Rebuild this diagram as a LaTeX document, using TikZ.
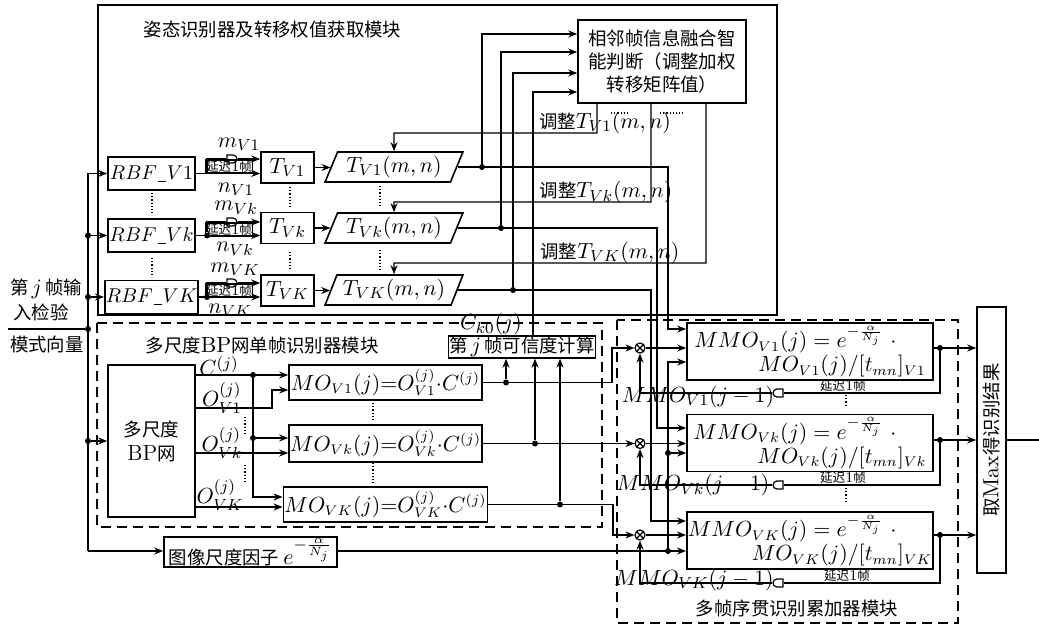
\documentclass[11pt,tikz,border=0pt]{standalone}
\usepackage{fontspec}
\newfontfamily\cjk{Noto Sans CJK SC}[Scale=0.84]
\usetikzlibrary{arrows.meta, shapes.geometric, shapes.misc, calc}
\newcommand{\tinyzh}{\fontsize{7.5}{8}\selectfont\cjk}
\newcommand{\yc}{延迟{\rmfamily 1}帧}
\newcommand{\us}{\kern0.6pt\rule[-1.2pt]{4pt}{0.4pt}\kern0.3pt}

\begin{document}
\begin{tikzpicture}[
    x=0.5pt, y=-0.5pt,
    box/.style={rectangle, draw, line width=0.8pt, inner sep=1pt, align=center},
    rbfbox/.style={box, minimum width=43.5pt, minimum height=16.5pt, inner sep=0.5pt, font=\fontsize{10}{12}\selectfont},
    mobox/.style={box, minimum width=96.5pt, inner sep=0.5pt, font=\fontsize{10.5}{12}\selectfont},
    mmobox/.style={box, minimum width=123pt, minimum height=28.5pt, inner sep=0.5pt, align=left, font=\fontsize{10.5}{12}\selectfont},
    para/.style={trapezium, draw, line width=0.8pt, trapezium left angle=67, trapezium right angle=113, trapezium stretches=true, minimum width=69pt, minimum height=15pt, inner sep=1pt},
    modframe/.style={line width=1pt, dash pattern=on 5pt off 3pt},
    arr/.style={-{Stealth[length=4.5pt,width=3.5pt]}, semithick},
    ln/.style={semithick},
    jn/.style={circle, fill, inner sep=0pt, minimum size=3pt},
    dlyr/.style={rounded rectangle, rounded rectangle left arc=none, draw, semithick, minimum width=5pt, minimum height=4pt, inner sep=0pt},
    dlyl/.style={rounded rectangle, rounded rectangle right arc=none, draw, semithick, minimum width=5pt, minimum height=4pt, inner sep=0pt},
    dlybox/.style={rectangle, draw, semithick, font=\tinyzh, inner sep=0.3pt, minimum width=23pt, minimum height=6.5pt},
    mult/.style={circle, draw, semithick, minimum size=5pt, inner sep=0pt,
        path picture={\draw[semithick] (path picture bounding box.north west) -- (path picture bounding box.south east)
                      (path picture bounding box.north east) -- (path picture bounding box.south west);}},
    vd/.style={densely dotted, semithick},
    lbl/.style={inner sep=0pt},
]
\useasboundingbox (0,0) rectangle (1039,626);

% ---- 姿态识别器模块
\draw[ln] (98,5) rectangle (777,315);
\node[font=\cjk, anchor=west] (ttitle) at (136,30) {姿态识别器及转移权值获取模块};

\node[box, minimum width=84pt, minimum height=41.5pt, font=\fontsize{11}{11.5}\selectfont\cjk] (fuse) at (662,61.5) {相邻帧信息融合智\\能判断（调整加权\\转移矩阵值）};

\node[rbfbox] (rbf1) at (151.5,173.5) {$RBF\mbox{\us}V1$};
\node[rbfbox] (rbfk) at (151.5,235.5) {$RBF\mbox{\us}Vk$};
\node[rbfbox] (rbfK) at (151.5,297) {$RBF\mbox{\us}VK$};
\draw[vd] (152,193) -- (152,213);
\draw[vd] (152,258) -- (152,277);

\node[box, minimum width=26.5pt, minimum height=15.5pt] (t1) at (287.5,167.5) {$T_{V1}$};
\node[box, minimum width=26.5pt, minimum height=15.5pt] (tk) at (287.5,228) {$T_{Vk}$};
\node[box, minimum width=26.5pt, minimum height=15.5pt] (tK) at (287.5,290.5) {$T_{VK}$};
\draw[vd] (290,187) -- (290,207);
\draw[vd] (290,252) -- (290,270);

\node[para] (p1) at (394,167) {$T_{V1}(m,n)$};
\node[para] (pk) at (394,228) {$T_{Vk}(m,n)$};
\node[para] (pK) at (394,290) {$T_{VK}(m,n)$};
\draw[vd] (380,186) -- (380,206);
\draw[vd] (380,250) -- (380,270);

% delay of one frame before T
\node[dlybox] (dl1) at (229,166.5) {\yc};
\node[dlybox] (dlk) at (229,229.5) {\yc};
\node[dlybox] (dlK) at (229,290.5) {\yc};
\node[dlyr] (dr1) at (232,159) {};
\node[dlyr] (drk) at (232,222) {};
\node[dlyr] (drK) at (232,283) {};
\coordinate (b1) at (207,173.5);
\node[jn] (bk) at (207,235.5) {};
\node[jn] (bK) at (207,297) {};

\draw[arr] (rbf1.east) -- (t1.west |- rbf1.east);
\draw[arr] (rbfk.east) -- (tk.west |- rbfk.east);
\draw[arr] (rbfK.east) -- (tK.west |- rbfK.east);
\draw[ln] (b1) |- (dr1.west);
\draw[ln] (bk) |- (drk.west);
\draw[ln] (bK) |- (drK.west);
\draw[arr] (dr1.east) -- (t1.west |- dr1.east);
\draw[arr] (drk.east) -- (tk.west |- drk.east);
\draw[arr] (drK.east) -- (tK.west |- drK.east);

\node[lbl] (m1) at (239,144) {$m_{V1}$};
\node[lbl] (n1) at (236,189) {$n_{V1}$};
\node[lbl] (mk) at (236,208) {$m_{Vk}$};
\node[lbl] (nk) at (235,249) {$n_{Vk}$};
\node[lbl] (mK) at (235,269) {$m_{VK}$};
\node[lbl] (nK) at (230,310) {$n_{VK}$};

\draw[arr] (t1.east) -- (t1.east -| p1.west);
\draw[arr] (tk.east) -- (tk.east -| pk.west);
\draw[arr] (tK.east) -- (tK.east -| pK.west);

\node[jn] (jp1) at (482,167) {};
\node[jn] (jpk) at (501,228) {};
\node[jn] (jpK) at (513,290) {};

\draw[arr] (fuse.south -| 597,0) |- (394,133) -- (p1.north);
\draw[arr] (fuse.south -| 651,0) |- (394,202) -- (pk.north);
\draw[arr] (fuse.south -| 706,0) |- (394,263) -- (pK.north);
\node[lbl] (adj1) at (605,123) {{\cjk 调整}$T_{V1}(m,n)$};
\node[lbl] (adjk) at (606,192) {{\cjk 调整}$T_{Vk}(m,n)$};
\node[lbl] (adjK) at (610,253) {{\cjk 调整}$T_{VK}(m,n)$};
\draw[vd] (611,113) -- (628,113);
\draw[vd] (660,113) -- (683,113);

% ---- input
\node[font=\cjk] (in1) at (46,289) {第\,$j$\,帧输};
\node[font=\cjk] (in2) at (41,312) {入检验};
\node[font=\cjk] (in3) at (47,345) {模式向量};
\coordinate (inend) at (8,329);
\node[jn] (jin) at (88,329) {};
\draw[ln] (inend) -- (jin);
\coordinate (bustop) at (88,173.5);
\node[jn] (jb2) at (88,235.5) {};
\node[jn] (jb3) at (88,297) {};
\node[jn] (jb4) at (88,441) {};
\coordinate (busbot) at (88,551);
\draw[ln] (bustop) -- (busbot);
\draw[arr] (bustop) -- (rbf1.west);
\draw[arr] (jb2) -- (rbfk.west);
\draw[arr] (jb3) -- (rbfK.west);

% ---- 多尺度BP网模块
\draw[modframe] (97,323) rectangle (602,527);
\node[font=\cjk, anchor=west] (mtitle) at (138,345) {多尺度{\rmfamily BP}网单帧识别器模块};
\node[box, minimum width=43.5pt, minimum height=76pt, font=\fontsize{11}{12}\selectfont\cjk] (bp) at (151.5,441) {多尺度\\{\rmfamily BP}网};
\draw[arr] (jb4) -- (bp.west);

\node[mobox, minimum height=17.5pt] (mo1) at (385.5,382.5) {$MO_{V1}(j){=}O^{(j)}_{V1}{\cdot}C^{(j)}$};
\node[mobox, minimum height=18.5pt] (mok) at (385.5,443.5) {$MO_{Vk}(j){=}O^{(j)}_{Vk}{\cdot}C^{(j)}$};
\node[mobox, minimum height=17.5pt] (moK) at (385.5,504.5) {$MO_{VK}(j){=}O^{(j)}_{VK}{\cdot}C^{(j)}$};
\draw[vd] (373,403) -- (373,422);
\draw[vd] (373,463) -- (373,484);

\node[jn] (jc) at (253,375) {};
\node[jn] (jc2) at (253,438) {};
\draw[arr, thick] (bp.east |- 0,375) -- (mo1.west |- 0,375);
\draw[arr, thick] (jc) |- (moK.west |- 0,497);
\draw[arr, thick] (jc2) -- (mok.west |- jc2);
\draw[arr, thick] (bp.east |- 0,408) -| (272,390) -- (mo1.west |- 0,390);
\draw[arr, thick] (bp.east |- 0,453) -- (mok.west |- 0,453);
\draw[arr, thick] (bp.east |- 0,507) -- (moK.west |- 0,507);
\node[lbl] (lc) at (219,366) {$C^{(j)}$};
\node[lbl] (lo1) at (222,398) {$O^{(j)}_{V1}$};
\node[lbl] (lok) at (222,443) {$O^{(j)}_{Vk}$};
\node[lbl] (loK) at (220,495) {$O^{(j)}_{VK}$};
\draw[vd] (245,417) -- (245,435);
\draw[vd] (245,465) -- (245,482);

\node[box, minimum width=73pt, minimum height=10pt, inner sep=0.5pt, font=\cjk] (cred) at (522,347) {第\,$j$\,帧可信度计算};
\node[lbl] (ck0) at (491,324) {$C_{k0}(j)$};

\node[mult] (x1) at (640,348) {};
\node[mult] (xk) at (640,443.5) {};
\node[mult] (xK) at (640,535) {};
\node[jn] (jm1) at (506,382.5) {};
\node[jn] (jmk) at (535,443.5) {};
\node[jn] (jmK) at (560,504.5) {};
\draw[arr] (jm1) -- (cred.south -| jm1);
\draw[arr] (jmk) -- (cred.south -| jmk);
\draw[arr] (jmK) -- (cred.south -| jmK);
\draw[arr] (mo1.east) -| (612,348) -- (x1.west);
\draw[arr] (mok.east) -- (xk.west);
\draw[arr] (moK.east) -| (613,535) -- (xK.west);

% ---- scale factor
\node[box, minimum width=86.5pt, minimum height=14.5pt, inner sep=0.5pt, font=\cjk] (scale) at (250.5,552) {图像尺度因子\ $e^{-\frac{\alpha}{N_j}}$};
\draw[arr] (busbot) -- (scale.west |- busbot);

% ---- 多帧序贯识别累加器模块
\draw[modframe] (617,320) rectangle (958,623);
\node[font=\cjk] (btitle) at (797,608) {多帧序贯识别累加器模块};

\node[mmobox] (mmo1) at (810,351.5) {$MMO_{V1}(j)=e^{-\frac{\alpha}{N_j}}\ \cdot$\\\hspace*{32pt}$MO_{V1}(j)/[t_{mn}]_{V1}$};
\node[mmobox] (mmok) at (810,443) {$MMO_{Vk}(j)=e^{-\frac{\alpha}{N_j}}\ \cdot$\\\hspace*{32pt}$MO_{Vk}(j)/[t_{mn}]_{Vk}$};
\node[mmobox] (mmoK) at (810,540.5) {$MMO_{VK}(j)=e^{-\frac{\alpha}{N_j}}\ \cdot$\\\hspace*{32pt}$MO_{VK}(j)/[t_{mn}]_{VK}$};
\draw[vd] (846,395) -- (846,407);
\draw[vd] (846,488) -- (846,502);

\draw[arr] (x1.east) -- (mmo1.west |- x1.east);
\draw[arr] (xk.east) -- (mmok.west |- xk.east);
\draw[arr] (xK.east) -- (mmoK.west |- xK.east);

% T(m,n) to fusion box and accumulator
\draw[arr] (p1.east) -| (668,329) -- (mmo1.west |- 0,329);
\draw[arr] (pk.east) -| (657,428) -- (mmok.west |- 0,428);
\draw[arr] (pK.east) -| (651,521) -- (mmoK.west |- 0,521);
\draw[arr] (jp1) |- (fuse.west |- 0,34);
\draw[arr] (jpk) |- (fuse.west |- 0,52);
\draw[arr] (jpK) |- (fuse.west |- 0,73);
\draw[arr] (cred.north -| 533,0) |- (fuse.west |- 0,92);

% scale factor to accumulator
\node[jn] (js) at (668,551) {};
\node[jn] (js2) at (668,453) {};
\draw[arr] (scale.east |- busbot) -- (mmoK.west |- busbot);
\draw[arr] (js) |- (mmo1.west |- 0,362);
\draw[arr] (js2) -- (mmok.west |- js2);

\node[box, minimum width=14.5pt, minimum height=133pt, inner sep=0pt] (maxres) at (991.5,440) {\rotatebox{90}{\cjk 取{\rmfamily Max}得识别结果}};
\coordinate (outend) at (1039,440);
\draw[ln] (maxres.east) -- (outend);

\node[jn] (jo1) at (940,348) {};
\node[jn] (jok) at (940,440) {};
\node[jn] (joK) at (940,535) {};
\draw[arr] (mmo1.east |- jo1) -- (maxres.west |- jo1);
\draw[arr] (mmok.east |- jok) -- (maxres.west |- jok);
\draw[arr] (mmoK.east |- joK) -- (maxres.west |- joK);

% feedback of previous frame
\node[dlyl] (dll1) at (778,393) {};
\node[dlyl] (dllk) at (778,485) {};
\node[dlyl] (dllK) at (778,583) {};
\draw[ln] (jo1) |- (dll1.east);
\draw[ln] (jok) |- (dllk.east);
\draw[ln] (joK) |- (dllK.east);
\draw[arr] (dll1.west) -| (x1.south);
\draw[arr] (dllk.west) -| (xk.south);
\draw[arr] (dllK.west) -| (xK.south);
\node[lbl] (fb1) at (698,397) {$MMO_{V1}(j-1)$};
\node[lbl] (fbk) at (693,485) {$MMO_{Vk}(j-1)$};
\node[lbl] (fbK) at (694,580) {$MMO_{VK}(j-1)$};
\node[lbl, font=\tinyzh] (yc1) at (843,386) {\yc};
\node[lbl, font=\tinyzh] (yck) at (843,478) {\yc};
\node[lbl, font=\tinyzh] (ycK) at (847,576) {\yc};

\end{tikzpicture}
\end{document}
